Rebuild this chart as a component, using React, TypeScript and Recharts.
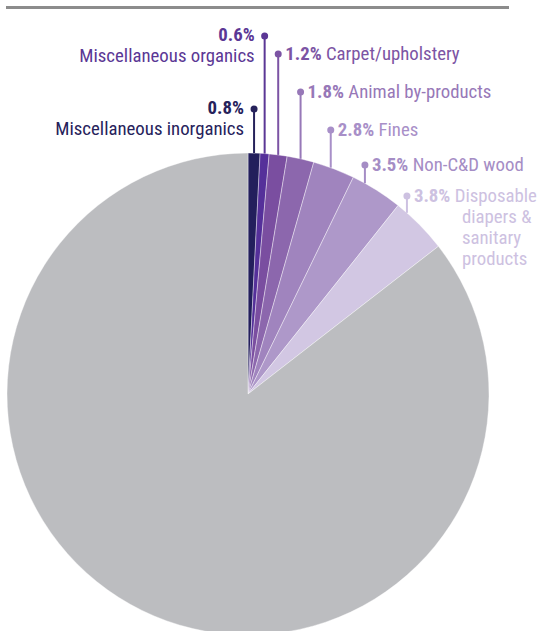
import { PieChart, Pie, Cell } from 'recharts';

// waste composition, clockwise from 12 o'clock
const categories = [
  'Miscellaneous inorganics',
  'Miscellaneous organics',
  'Carpet/upholstery',
  'Animal by-products',
  'Fines',
  'Non-C&D wood',
  'Disposable diapers & sanitary products',
  'Other materials',
];
const shares = [0.8, 0.6, 1.2, 1.8, 2.8, 3.5, 3.8, 85.5];
const percentLabels = ['0.8%', '0.6%', '1.2%', '1.8%', '2.8%', '3.5%', '3.8%', ''];

const sliceColors = ['#231f5c', '#55309a', '#7a4ea0', '#8c67ad', '#a084be', '#ae98c9', '#d2c7e3', '#bcbdc0'];
const textColors = ['#26225b', '#5b3795', '#7c54a4', '#9778b8', '#a88fc8', '#a58dc5', '#cdc1e1', ''];

// label placement: height of the dot, angle nudge of the leader, side, wrapped name lines
const labelDotY = [109, 36, 54, 92, 130, 165, 196];
const leaderNudge = [0, 0, 0, 0, 0.8, 3.2, 4.1];
const labelSide = ['left', 'left', 'right', 'right', 'right', 'right', 'right'];
const nameLines = [
  ['Miscellaneous inorganics'],
  ['Miscellaneous organics'],
  ['Carpet/upholstery'],
  ['Animal by-products'],
  ['Fines'],
  ['Non-C&D wood'],
  ['Disposable', 'diapers &', 'sanitary', 'products'],
];

const data = categories.map((name, i) => ({ name, value: shares[i] }));

const FONT = "'Liberation Sans Narrow', 'Roboto Condensed', 'DejaVu Sans Condensed', sans-serif";
const FS = 18.8;
const RAD = Math.PI / 180;

const renderLabel = (props: any) => {
  const { cx, cy, midAngle, outerRadius, index } = props;
  if (index >= labelDotY.length) return null;
  const ang = (midAngle + leaderNudge[index]) * RAD;
  const x = cx + outerRadius * Math.cos(ang);
  const y = cy - outerRadius * Math.sin(ang);
  const dotY = labelDotY[index];
  const color = textColors[index];
  const lines = nameLines[index];

  if (labelSide[index] === 'left') {
    return (
      <g>
        <line x1={x} y1={y} x2={x} y2={dotY} stroke={color} strokeWidth={2} />
        <circle cx={x} cy={dotY} r={3.5} fill={color} />
        <text x={x - 10} y={dotY + 5} textAnchor="end" fill={color} fontFamily={FONT} fontSize={FS} fontWeight="bold">
          {percentLabels[index]}
        </text>
        <text x={x - 10} y={dotY + 25.5} textAnchor="end" fill={color} fontFamily={FONT} fontSize={FS}>
          {lines[0]}
        </text>
      </g>
    );
  }

  return (
    <g>
      <line x1={x} y1={y} x2={x} y2={dotY} stroke={color} strokeWidth={2} />
      <circle cx={x} cy={dotY} r={3.5} fill={color} />
      <text x={x + 7} y={dotY + 6} fill={color} fontFamily={FONT} fontSize={FS}>
        <tspan fontWeight="bold">{percentLabels[index]}</tspan>
        <tspan> {lines[0]}</tspan>
      </text>
      {lines.slice(1).map((ln, k) => (
        <text key={k} x={x + 55} y={dotY + 6 + 21 * (k + 1)} fill={color} fontFamily={FONT} fontSize={FS}>
          {ln}
        </text>
      ))}
    </g>
  );
};

export default function App() {
  return (
    <div style={{ position: 'absolute', left: 0, top: 0, width: 545, height: 631, background: '#fff', overflow: 'hidden' }}>
      <div style={{ position: 'absolute', left: 6, top: 6, width: 503, height: 3, background: '#8c8c8c' }} />
      <PieChart width={545} height={631} margin={{ top: 0, right: 0, bottom: 0, left: 0 }}>
        <Pie
          data={data}
          dataKey="value"
          nameKey="name"
          cx={248}
          cy={394}
          outerRadius={241}
          startAngle={90}
          endAngle={-270}
          stroke="#ffffff"
          strokeWidth={0.4}
          label={renderLabel}
          labelLine={false}
          isAnimationActive={false}
        >
          {data.map((d, i) => (
            <Cell key={d.name} fill={sliceColors[i]} />
          ))}
        </Pie>
      </PieChart>
    </div>
  );
}
